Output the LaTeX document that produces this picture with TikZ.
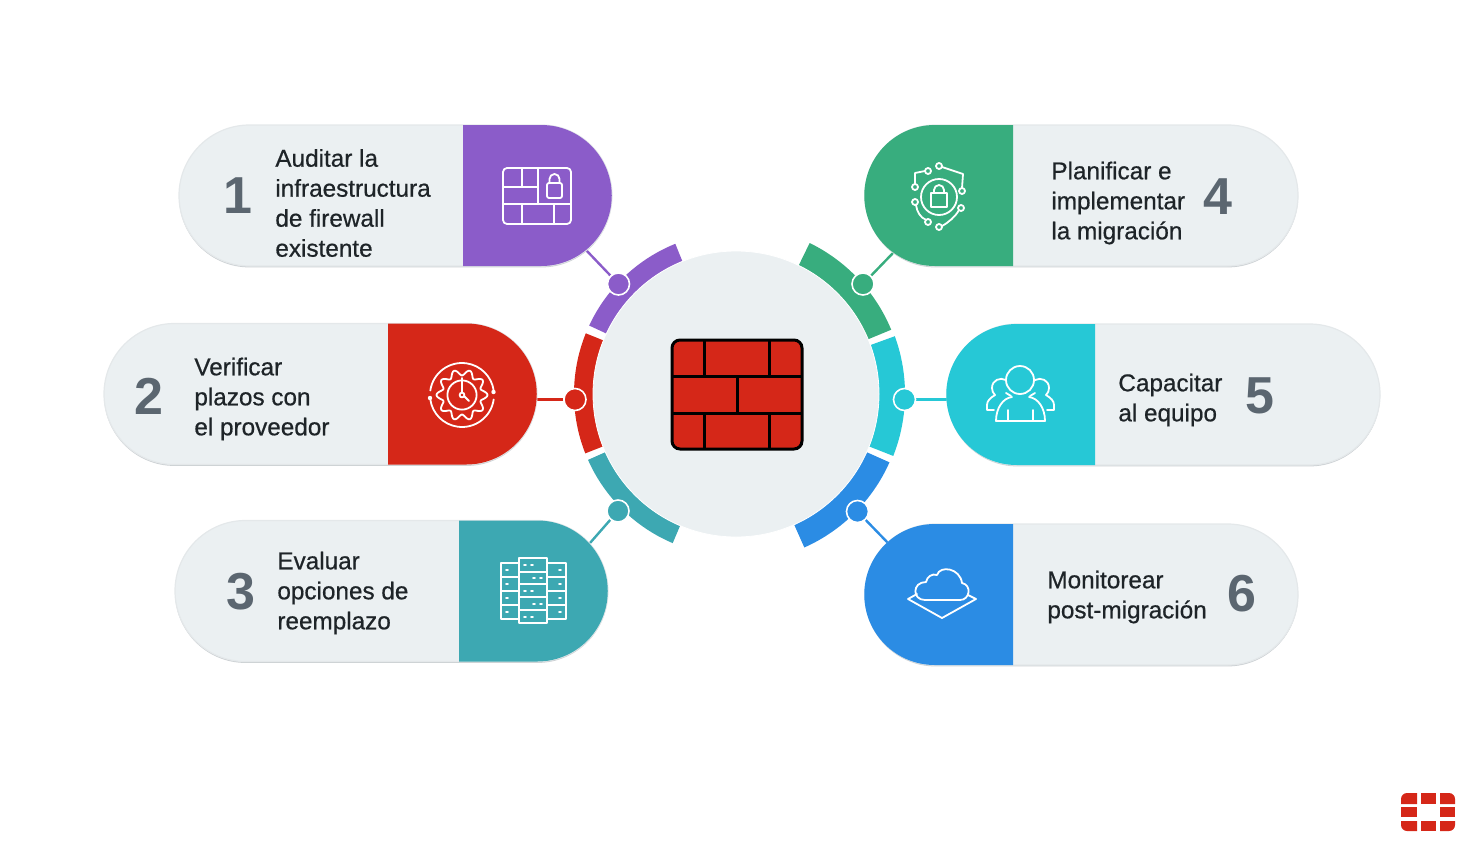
\documentclass[tikz,border=0pt]{standalone}
\usepackage{fontspec}
\setmainfont{Liberation Sans}
\newfontfamily\medfont{Liberation Sans}[FakeBold=0.6]
\usetikzlibrary{shapes.misc, shadows}

\definecolor{violetstep}{HTML}{8B5CC9}
\definecolor{redstep}{HTML}{D52718}
\definecolor{tealstep}{HTML}{3DA8B2}
\definecolor{greenstep}{HTML}{38AD7E}
\definecolor{cyanstep}{HTML}{26C8D6}
\definecolor{bluestep}{HTML}{2B8CE4}
\definecolor{pillgray}{HTML}{EBF0F2}
\definecolor{pilledge}{HTML}{E4E8EA}
\definecolor{pillshade}{HTML}{CBD0D3}
\definecolor{numgray}{HTML}{5B6670}
\definecolor{inkdark}{HTML}{1E2428}

\tikzset{
  pillbox/.style={shape=rounded rectangle, fill=pillgray, draw=pilledge, line width=0.6pt, minimum width=216.5pt, minimum height=70.5pt, inner sep=0pt, drop shadow={shadow xshift=0pt, shadow yshift=-0.7pt, fill=pillshade, opacity=1}},
  ringdot/.style={circle, fill=#1, draw=white, line width=0.8pt, minimum size=11pt, inner sep=0pt},
  link/.style={line width=1.2pt},
  stepnum/.style={font=\fontsize{26}{26}\selectfont\bfseries, text=numgray, inner sep=0pt},
  steptext/.style={font=\medfont\fontsize{12.15}{15}\selectfont, text=inkdark, align=left, anchor=west, inner sep=0pt},
  iconline/.style={draw=white, line width=0.9pt, line join=round, line cap=round},
  brickline/.style={draw=black, line width=1.5pt}
}

\newcommand{\ringband}[4]{
  \fill[#1] ([shift={(#2:#4)}]hub) arc[start angle=#2, end angle=#3, radius=#4] -- ([shift={(#3:71pt)}]hub) arc[start angle=#3, end angle=#2, radius=71pt] -- cycle;
}
\newcommand{\capright}[3]{
  \fill[#1] (#2,#3) -- ++(78.25,0) arc[start angle=90, end angle=-90, radius=35.25pt] -- ++(-78.25,0) -- cycle;
}
\newcommand{\capleft}[3]{
  \fill[#1] (#2,#3) -- ++(-78.25,0) arc[start angle=90, end angle=270, radius=35.25pt] -- ++(78.25,0) -- cycle;
}

\begin{document}
\begin{tikzpicture}[x=0.5pt, y=-0.5pt]
  \useasboundingbox (0,0) rectangle (1477,867);

  \coordinate (hub) at (736,394);
  \coordinate (capaudit) at (586,250);
  \coordinate (capplazos) at (537,399.5);
  \coordinate (capoption) at (590,543);
  \coordinate (capplan) at (893,253);
  \coordinate (capteam) at (947,399.5);
  \coordinate (capmonitor) at (888,543);

  \node[ringdot=violetstep] (dotaudit) at (618.5,284) {};
  \node[ringdot=redstep] (dotplazos) at (575,399.5) {};
  \node[ringdot=tealstep] (dotoption) at (618,511) {};
  \node[ringdot=greenstep] (dotplan) at (863,284) {};
  \node[ringdot=cyanstep] (dotteam) at (904.5,399.5) {};
  \node[ringdot=bluestep] (dotmonitor) at (857.5,511.5) {};

  \draw[link, violetstep] (dotaudit) -- (capaudit);
  \draw[link, redstep] (dotplazos) -- (capplazos);
  \draw[link, tealstep] (dotoption) -- (capoption);
  \draw[link, greenstep] (dotplan) -- (capplan);
  \draw[link, cyanstep] (dotteam) -- (capteam);
  \draw[link, bluestep] (dotmonitor) -- (capmonitor);

  \node[pillbox] (pillaudit) at (395.5,195.5) {};
  \node[pillbox] (pillplazos) at (320.5,394) {};
  \node[pillbox] (pilloption) at (391.5,591) {};
  \node[pillbox] (pillplan) at (1081.5,195.5) {};
  \node[pillbox] (pillteam) at (1163.5,394.5) {};
  \node[pillbox] (pillmonitor) at (1081.5,594.5) {};

  \capright{violetstep}{463}{125}
  \capright{redstep}{388}{323.5}
  \capright{tealstep}{459}{520.5}
  \capleft{greenstep}{1013}{125}
  \capleft{cyanstep}{1095}{324}
  \capleft{bluestep}{1013}{524}

  \ringband{violetstep}{112}{155}{81pt}
  \ringband{redstep}{158}{201.5}{81pt}
  \ringband{tealstep}{204}{247}{81pt}
  \ringband{greenstep}{64}{22.5}{84pt}
  \ringband{cyanstep}{20}{-21.5}{84.5pt}
  \ringband{bluestep}{-24}{-66}{84pt}

  \node[circle, fill=pillgray, draw=white, line width=0.4pt, minimum size=143pt, inner sep=0pt] (hubdisc) at (hub) {};
  \node[ringdot=violetstep] at (dotaudit) {};
  \node[ringdot=redstep] at (dotplazos) {};
  \node[ringdot=tealstep] at (dotoption) {};
  \node[ringdot=greenstep] at (dotplan) {};
  \node[ringdot=cyanstep] at (dotteam) {};
  \node[ringdot=bluestep] at (dotmonitor) {};

  \filldraw[fill=redstep, brickline, rounded corners=4pt] (672,340) rectangle (802,449);
  \draw[brickline] (672,376) -- (802,376);
  \draw[brickline] (672,413) -- (802,413);
  \draw[brickline] (704.5,340) -- (704.5,376);
  \draw[brickline] (769,340) -- (769,376);
  \draw[brickline] (737,376) -- (737,413);
  \draw[brickline] (704.5,413) -- (704.5,449);
  \draw[brickline] (769,413) -- (769,449);

  \node[stepnum] (numaudit) at (237.5,196) {1};
  \node[stepnum] (numplazos) at (149,396) {2};
  \node[stepnum] (numoption) at (241,592) {3};
  \node[stepnum] (numplan) at (1218,197) {4};
  \node[stepnum] (numteam) at (1260,396) {5};
  \node[stepnum] (nummonitor) at (1242,594) {6};

  \node[steptext] (textaudit) at (275,203) {Auditar la\\infraestructura\\de firewall\\existente};
  \node[steptext] (textplazos) at (194,399) {Verificar\\plazos con\\el proveedor};
  \node[steptext] (textoption) at (277,593) {Evaluar\\opciones de\\reemplazo};
  \node[steptext] (textplan) at (1051,203) {Planificar e\\implementar\\la migración};
  \node[steptext] (textteam) at (1118,400) {Capacitar\\al equipo};
  \node[steptext] (textmonitor) at (1047,597) {Monitorear\\post-migración};

  \draw[iconline, rounded corners=2pt] (503,168) rectangle (571,224);
  \draw[iconline] (503,187) -- (538,187);
  \draw[iconline] (503,204) -- (571,204);
  \draw[iconline] (538,168) -- (538,204);
  \draw[iconline] (522,168) -- (522,187);
  \draw[iconline] (522,204) -- (522,224);
  \draw[iconline] (554,204) -- (554,224);
  \draw[iconline, rounded corners=1pt] (547,183) rectangle (562,198);
  \draw[iconline] (549.5,183) -- (549.5,179) arc[start angle=180, end angle=0, radius=2.5pt] -- (559.5,183);

  \draw[iconline] ([shift={(172:16pt)}]462,395) arc[start angle=172, end angle=8, radius=16pt];
  \draw[iconline] ([shift={(-8:16pt)}]462,395) arc[start angle=-8, end angle=-172, radius=16pt];
  \fill[white] (493.5,392) circle[radius=1.1pt];
  \fill[white] (430,398) circle[radius=1.1pt];
  \draw[iconline, domain=0:360, samples=121, smooth] plot ({462+(22.5+3*cos(10*\x))*cos(\x)},{395+(22.5+3*cos(10*\x))*sin(\x)});
  \draw[iconline] (462,395) circle[radius=7.3pt];
  \draw[iconline] (462,378) -- (462,392);
  \draw[iconline] (462,395) circle[radius=1.2pt];
  \draw[iconline] (464,396) -- (469,401);

  \draw[iconline] (501,563) rectangle (519,619);
  \draw[iconline] (501,577) -- (519,577);
  \draw[iconline] (501,591) -- (519,591);
  \draw[iconline] (501,605) -- (519,605);
  \draw[iconline] (547,563) rectangle (566,619);
  \draw[iconline] (547,577) -- (566,577);
  \draw[iconline] (547,591) -- (566,591);
  \draw[iconline] (547,605) -- (566,605);
  \draw[iconline] (519,558) rectangle (547,623);
  \draw[iconline] (519,572) -- (547,572);
  \draw[iconline] (519,584) -- (547,584);
  \draw[iconline] (519,597) -- (547,597);
  \draw[iconline] (519,610) -- (547,610);
  \draw[iconline] (506,570) -- (508,570);
  \draw[iconline] (506,584) -- (508,584);
  \draw[iconline] (506,598) -- (508,598);
  \draw[iconline] (506,612) -- (508,612);
  \draw[iconline] (559,570) -- (561,570);
  \draw[iconline] (559,584) -- (561,584);
  \draw[iconline] (559,598) -- (561,598);
  \draw[iconline] (559,612) -- (561,612);
  \draw[iconline] (524,565) -- (526,565) (531,565) -- (533,565);
  \draw[iconline] (533,578) -- (535,578) (540,578) -- (542,578);
  \draw[iconline] (524,591) -- (526,591) (531,591) -- (533,591);
  \draw[iconline] (533,604) -- (535,604) (540,604) -- (542,604);
  \draw[iconline] (524,617) -- (526,617) (531,617) -- (533,617);

  \draw[iconline] (939,197) circle[radius=9pt];
  \draw[iconline] (931,193) rectangle (947,207);
  \draw[iconline] (934,193) -- (934,190) arc[start angle=180, end angle=0, radius=2.5pt] -- (944,193);
  \draw[iconline] (915,184) -- (915,173) -- (925,171);
  \draw[iconline] (915,187) circle[radius=1.5pt];
  \draw[iconline] (928,171) circle[radius=1.5pt];
  \draw[iconline] (942,167) -- (963,174) -- (962,188);
  \draw[iconline] (939,166) circle[radius=1.5pt];
  \draw[iconline] (962,191) circle[radius=1.5pt];
  \draw[iconline] (916,205) .. controls (917,212) and (920,217) .. (926,220);
  \draw[iconline] (915,202) circle[radius=1.5pt];
  \draw[iconline] (928,222) circle[radius=1.5pt];
  \draw[iconline] (959,210) .. controls (955,217) and (949,222) .. (942,226);
  \draw[iconline] (961,208) circle[radius=1.5pt];
  \draw[iconline] (939,227) circle[radius=1.5pt];

  \draw[iconline] (1020,380) circle[radius=7pt];
  \draw[iconline] (996,421) -- (1045,421);
  \draw[iconline] (996,421) .. controls (996,408) and (1003,398) .. (1012,397);
  \draw[iconline] (1045,421) .. controls (1045,408) and (1038,398) .. (1029,397);
  \draw[iconline] (1008,410) -- (1008,421);
  \draw[iconline] (1033,410) -- (1033,421);
  \draw[iconline] (1006,380) .. controls (1000,377) and (992,380) .. (992,388) .. controls (992,391) and (993,393) .. (995,395) .. controls (990,398) and (987,401) .. (987,405) -- (987,410) -- (994,410);
  \draw[iconline] (1006,393) -- (1011,396);
  \draw[iconline] (1035,380) .. controls (1041,377) and (1049,380) .. (1049,388) .. controls (1049,391) and (1048,393) .. (1046,395) .. controls (1051,398) and (1054,401) .. (1054,405) -- (1054,410) -- (1047,410);
  \draw[iconline] (1035,393) -- (1030,396);

  \draw[iconline] (925,600) -- (960,600) .. controls (970,600) and (972,585) .. (962,583) .. controls (960,568) and (940,565) .. (937,575) .. controls (932,573) and (927,577) .. (926,582) .. controls (912,582) and (912,600) .. (925,600);
  \draw[iconline] (917,594) -- (908,599) -- (942,618) -- (976,599) -- (968,595);

  \fill[redstep] (1401,804) [rounded corners=3pt] -- (1401,793) [sharp corners] -- (1417,793) -- (1417,804) -- cycle;
  \fill[redstep] (1421,793) rectangle (1436,804);
  \fill[redstep] (1440,793) [rounded corners=3pt] -- (1455,793) [sharp corners] -- (1455,804) -- (1440,804) -- cycle;
  \fill[redstep] (1401,807) rectangle (1417,817);
  \fill[redstep] (1440,807) rectangle (1455,817);
  \fill[redstep] (1401,821) [rounded corners=3pt] -- (1401,831) [sharp corners] -- (1417,831) -- (1417,821) -- cycle;
  \fill[redstep] (1421,821) rectangle (1436,831);
  \fill[redstep] (1455,821) [rounded corners=3pt] -- (1455,831) [sharp corners] -- (1440,831) -- (1440,821) -- cycle;
\end{tikzpicture}
\end{document}
